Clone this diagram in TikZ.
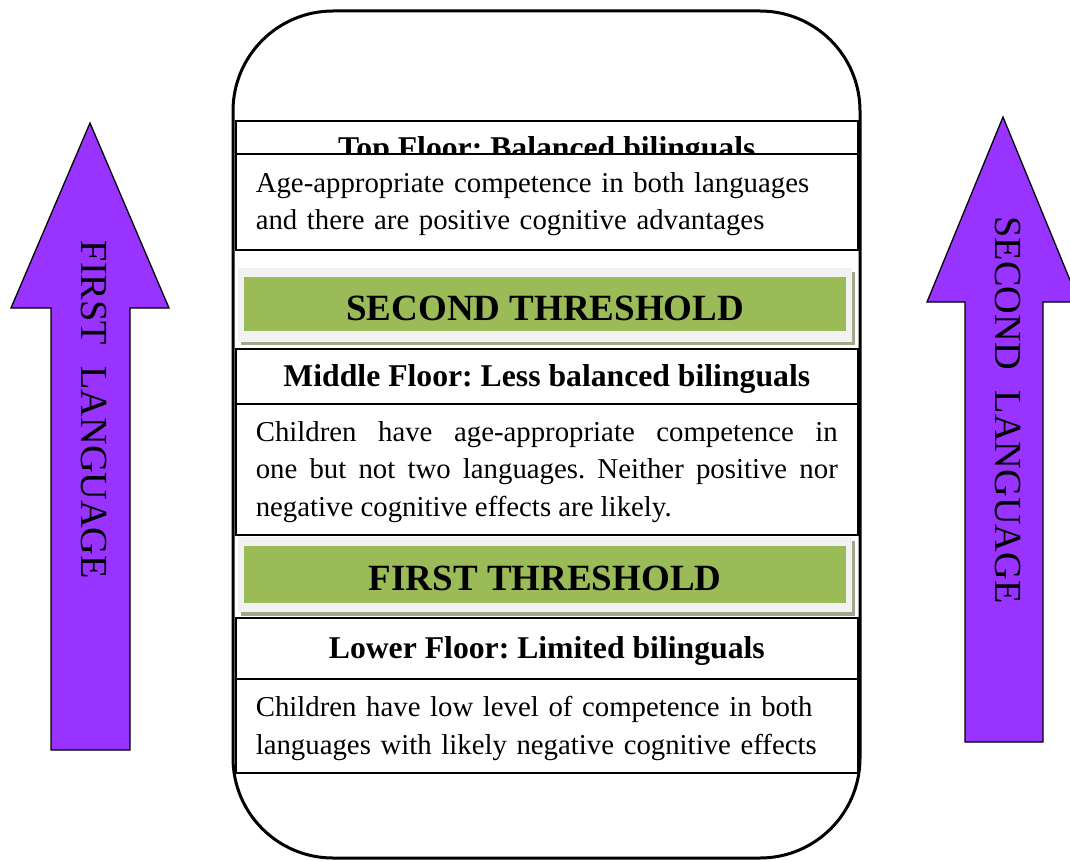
\documentclass[tikz,border=0pt]{standalone}
\usepackage{fontspec}
\setmainfont{Liberation Serif}
\frenchspacing
\hyphenpenalty=10000
\exhyphenpenalty=10000
\definecolor{arrowpurple}{RGB}{153,51,255}
\definecolor{thgreen}{RGB}{155,187,89}
\definecolor{thgray}{RGB}{242,242,242}
\definecolor{thshadow}{RGB}{160,168,140}
\tikzset{
  floorbox/.style={draw=black, line width=1.6pt, fill=white, anchor=north west, minimum width=622pt, inner sep=0pt},
  titletext/.style={font=\fontsize{31.7}{36}\selectfont\bfseries, inner sep=0pt, yshift=-2.5pt},
  desctext/.style={inner sep=0pt, text width=582pt, font=\fontsize{28.8}{37.5}\selectfont, yshift=-2.5pt},
  thouter/.style={fill=thgray, draw=none, anchor=north west, minimum width=614pt, inner sep=0pt},
  thinner/.style={fill=thgreen, draw=none, anchor=north west, minimum width=602pt, inner sep=0pt},
  thtext/.style={font=\fontsize{37}{40}\selectfont\bfseries, inner sep=0pt, yshift=-4pt},
  bigarrow/.style={fill=arrowpurple, draw=black, line width=1.3pt, line join=miter},
  arrowtext/.style={rotate=-90, font=\fontsize{38.3}{40}\selectfont}
}
\begin{document}
\begin{tikzpicture}[x=1pt,y=-1pt]
\useasboundingbox (0,0) rectangle (1070,861);
% side arrows
\draw[bigarrow] (90,123) -- (169,308) -- (130,308) -- (130,750) -- (51,750) -- (51,308) -- (11,308) -- cycle;
\node[arrowtext] (firstlang) at (94,410) {FIRST\hspace{0.55em}LANGUAGE};
\draw[bigarrow] (1003,117) -- (1079,302) -- (1043,302) -- (1043,742) -- (965,742) -- (965,302) -- (927,302) -- cycle;
\node[arrowtext] (secondlang) at (1008,410) {SECOND\hspace{0.55em}LANGUAGE};
% outer rounded frame
\draw[line width=3pt, rounded corners=100pt] (233,11) rectangle (860,858);
% top floor
\node[floorbox, minimum height=56pt] (topbox) at (235,120) {};
\node[titletext] (toptitle) at (topbox.center) {Top Floor: Balanced bilinguals};
\node[floorbox, minimum height=96pt] (topdescbox) at (235,153) {};
\node[desctext, align=left] (topdesc) at (topdescbox.center) {Age-appropriate competence in both languages\\and there are positive cognitive advantages};
% second threshold
\fill[thshadow] (241,272) rectangle (855,345);
\node[thouter, minimum height=74pt] (secondouter) at (238,268) {};
\node[thinner, minimum height=54pt] (secondbox) at (244,277) {};
\node[thtext] (secondth) at (secondbox.center) {SECOND THRESHOLD};
% middle floor
\node[floorbox, minimum height=55pt] (midbox) at (235,348) {};
\node[titletext] (midtitle) at (midbox.center) {Middle Floor: Less balanced bilinguals};
\node[floorbox, minimum height=131pt] (middescbox) at (235,403) {};
\node[desctext, align=justify] (middesc) at (middescbox.center) {Children have age-appropriate competence in\linebreak one but not two languages. Neither positive nor\linebreak negative cognitive effects are likely.};
% first threshold
\fill[thshadow] (241,541) rectangle (855,616);
\node[thouter, minimum height=75pt] (firstouter) at (238,537) {};
\node[thinner, minimum height=57pt] (firstbox) at (244,546) {};
\node[thtext] (firstth) at (firstbox.center) {FIRST THRESHOLD};
% lower floor
\node[floorbox, minimum height=61pt] (lowbox) at (235,617) {};
\node[titletext] (lowtitle) at (lowbox.center) {Lower Floor: Limited bilinguals};
\node[floorbox, minimum height=94pt] (lowdescbox) at (235,678) {};
\node[desctext, align=left] (lowdesc) at (lowdescbox.center) {Children have low level of competence in both\\languages with likely negative cognitive effects};
\end{tikzpicture}
\end{document}
